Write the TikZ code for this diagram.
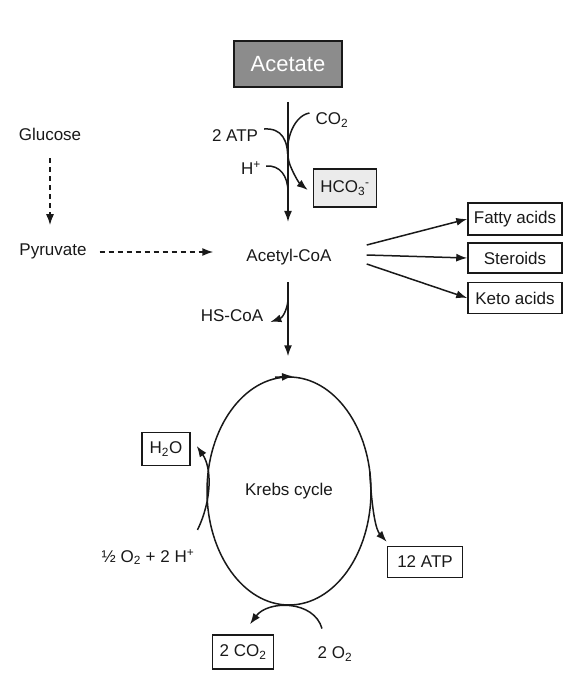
\documentclass[tikz,border=0pt]{standalone}
\usepackage{fontspec}
\setmainfont{Liberation Sans}
\usetikzlibrary{arrows.meta,shapes.geometric,calc}
\begin{document}
\begin{tikzpicture}[x=1pt,y=-1pt,
  lbl/.style={font=\fontsize{17}{19}\selectfont, text=black!90, inner sep=1pt},
  boxed/.style={lbl, draw=black!90, line width=1.5pt, inner sep=0pt, minimum height=30pt},
  ln/.style={line width=1.5pt, draw=black!90},
  arr/.style={ln, -{Latex[length=11pt,width=8pt]}},
  darr/.style={ln, dash pattern=on 5pt off 4pt, -{Latex[length=11pt,width=8pt]}}]
\useasboundingbox (0,0) rectangle (584,685);
% nodes
\node[boxed, fill=black!45, text=white, minimum width=108pt, minimum height=46pt,
      font=\fontsize{22}{24}\selectfont] (ace) at (288,64) {Acetate};
\node[lbl] (co2) at (332,120) {CO\textsubscript{2}};
\node[lbl] (atp2) at (235,136) {2 ATP};
\node[lbl] (hp) at (251,168) {H\textsuperscript{+}};
\node[boxed, fill=black!8, minimum width=63pt, minimum height=38pt] (hco) at (345,188) {HCO\textsubscript{3}\textsuperscript{-}};
\node[lbl] (glu) at (50,134) {Glucose};
\node[lbl] (pyr) at (53,251) {Pyruvate};
\node[lbl] (acc) at (289,257) {Acetyl-CoA};
\node[boxed, minimum width=94pt, minimum height=32pt] (fat) at (515,219) {Fatty acids};
\node[boxed, minimum width=94pt, minimum height=30pt] (ste) at (515,258) {Steroids};
\node[boxed, minimum width=94pt, minimum height=31pt] (ket) at (515,298) {Keto acids};
\node[lbl] (hs) at (232,316) {HS-CoA};
\node[ellipse, ln, minimum width=164pt, minimum height=228pt, inner sep=0pt,
      lbl, draw=black!90] (kc) at (289,491) {Krebs cycle};
\node[boxed, minimum width=48pt, minimum height=33pt] (h2o) at (166,449) {H\textsubscript{2}O};
\node[lbl] (half) at (148,557) {\textonehalf\ O\textsubscript{2} + 2 H\textsuperscript{+}};
\node[boxed, minimum width=75pt, minimum height=31pt] (atp12) at (425,562) {12 ATP};
\node[boxed, minimum width=61pt, minimum height=34pt] (co22) at (243,652) {2 CO\textsubscript{2}};
\node[lbl] (o22) at (335,654) {2 O\textsubscript{2}};
% main vertical
\draw[arr] ($(ace.south)+(0,14)$) -- ($(acc.north -| ace.south)+(0,-26)$);
% side reactions
\draw[ln] ($(atp2.east)+(5,-7)$) .. controls (282,128) and (288,140) .. (288,160);
\draw[ln] ($(hp.east)+(4,-2)$) .. controls (280,165) and (288,176) .. (288,192);
\draw[arr] ($(co2.west)+(-5,-7)$) .. controls (292,116) and (283,146) .. (290,165)
   .. controls (294,175) and (299,183) .. ($(hco.west)+(-5,2)$);
% glucose / pyruvate
\draw[darr] ($(glu.south)+(0,17)$) -- ($(pyr.north -| glu.south)+(0,-17)$);
\draw[darr] ($(pyr.east)+(12,1)$) -- ($(acc.west)+(-32,-5)$);
% fan
\draw[arr] ($(acc.east)+(34,-12)$) -- (fat.west);
\draw[arr] ($(acc.east)+(34,-2)$) -- (ste.west);
\draw[arr] ($(acc.east)+(34,7)$) -- (ket.west);
% acetyl-CoA to cycle
\draw[arr] ($(acc.south -| ace.south)+(0,16)$) -- ($(kc.north -| ace.south)+(0,-20)$);
\draw[arr] ($(acc.south -| ace.south)+(0,34)$) .. controls (287,311) and (282,318) .. ($(hs.east)+(6,6)$);
% cycle direction
\draw[arr] ($(kc.north)+(-14,1)$) -- ($(kc.north)+(4,0)$);
% H2O
\draw[arr] ($(half.north east)+(2,-18)$) .. controls (212,500) and (212,468) .. ($(h2o.east)+(6,-3)$);
% 12 ATP
\draw[arr] ($(kc.east)+(-2,-19)$) .. controls (372,512) and (376,530) .. ($(atp12.north west)+(0,-4)$);
% CO2 / O2 bottom
\draw[arr] ($(o22.north)+(-13,-17)$) .. controls (314,600) and (268,600) .. ($(co22.north)+(7,-10)$);
\end{tikzpicture}
\end{document}
